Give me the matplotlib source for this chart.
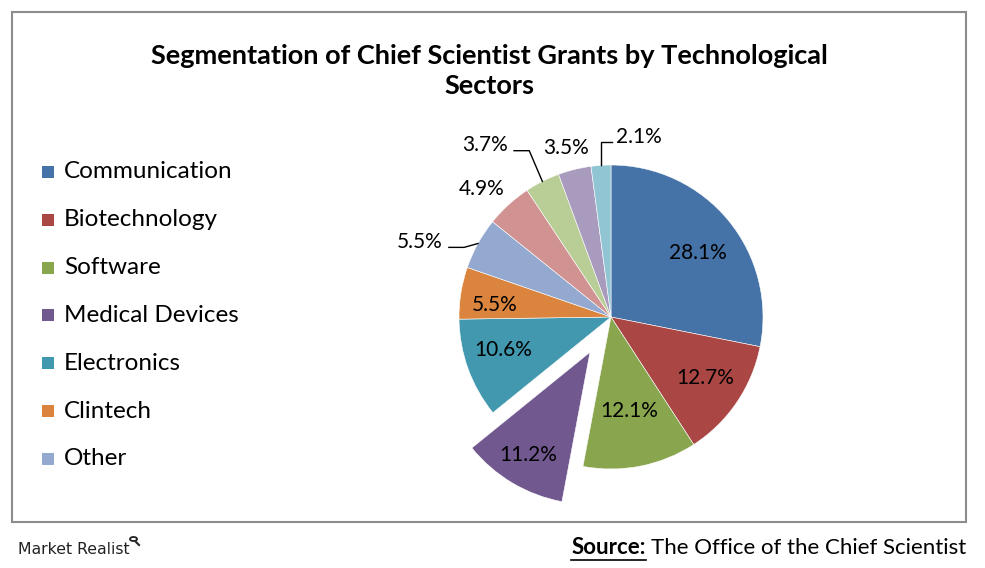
import numpy as np
import matplotlib
matplotlib.use("Agg")
import matplotlib.pyplot as plt
from matplotlib.patches import Rectangle, Circle
from matplotlib.lines import Line2D

# --- data ---
legend_names = ["Communication", "Biotechnology", "Software", "Medical Devices",
                "Electronics", "Clintech", "Other"]
shares = [28.1, 12.7, 12.1, 11.2, 10.6, 5.5, 5.5, 4.9, 3.7, 3.5, 2.1]
colors = ["#4572A7", "#AA4643", "#89A54E", "#71588F", "#4198AF", "#DB843D",
          "#93A9CF", "#D19392", "#B9CD96", "#A99BBD", "#92C5D3"]
explode = [0, 0, 0, 0.27, 0, 0, 0, 0, 0, 0, 0]

# label placement (radius from slice origin, angle nudge in degrees, leader line?)
lab_r = [0.71, 0.74, 0.63, 0.79, 0.74, 0.77, 1.35, 1.20, 1.40, 1.15, 1.20]
lab_dang = [-3, 1, 0, 0, -3, 3, 7.5, 3, 9.4, 1, -12.7]
leader = [False] * 6 + [True, False, True, False, True]

FONT = ["Lato", "DejaVu Sans"]
W, H = 985, 568
fig = plt.figure(figsize=(W / 100, H / 100), dpi=100)
fig.patch.set_facecolor("white")

# chart border
fig.patches.append(Rectangle((12 / W, 1 - 522 / H), (966 - 12) / W, (522 - 12) / H,
                             transform=fig.transFigure, fill=False,
                             edgecolor="#8C8C8C", linewidth=1.5))

fig.text(489 / W, 1 - 71 / H,
         "Segmentation of Chief Scientist Grants by Technological\nSectors",
         ha="center", va="center", fontsize=19.5, fontweight="bold",
         family=FONT, linespacing=1.3, color="black")

# pie axes: centre at pixel (611, 317), radius 152 px
R = 152
cx, cy = 611, 317
ax = fig.add_axes(((cx - 2 * R) / W, (H - cy - 1.6 * R) / H, 4 * R / W, 3.2 * R / H))
wedges, _ = ax.pie(shares, colors=colors, explode=explode, startangle=90,
                   counterclock=False, radius=1.0,
                   wedgeprops=dict(edgecolor="white", linewidth=0.4))
ax.set_xlim(-2, 2)
ax.set_ylim(-1.6, 1.6)
ax.set_aspect("equal")
ax.axis("off")

for w, val, ex, r, da, ld in zip(wedges, shares, explode, lab_r, lab_dang, leader):
    mid = np.deg2rad((w.theta1 + w.theta2) / 2)
    ox, oy = ex * np.cos(mid), ex * np.sin(mid)
    ang = mid + np.deg2rad(da)
    lx, ly = ox + r * np.cos(ang), oy + r * np.sin(ang)
    ax.text(lx, ly, f"{val}%", ha="center", va="center", fontsize=15,
            family=FONT, color="black")
    if ld:
        exx, exy = np.cos(mid), np.sin(mid)
        half = 0.19
        if lx < exx:
            endx = lx + half
            elbx = endx + 0.1
        else:
            endx = lx - half + 0.01
            elbx = exx
        endy = ly - 0.035
        ax.plot([exx, elbx, endx], [exy, endy, endy], color="black", lw=1.0,
                solid_joinstyle="miter")

# legend
for i, (name, col) in enumerate(zip(legend_names, colors)):
    y = 172 + i * 47.8
    fig.patches.append(Rectangle((42 / W, 1 - (y + 6) / H), 12 / W, 12 / H,
                                 transform=fig.transFigure, facecolor=col,
                                 edgecolor="none"))
    fig.text(64 / W, 1 - y / H, name, ha="left", va="center", fontsize=17.5,
             family=FONT, color="black")

# footer
fig.text(18 / W, 1 - 549 / H, "Market Realist", ha="left", va="center",
         fontsize=11.3, family=["Liberation Sans Narrow", "DejaVu Sans"],
         color="#222222")
fig.patches.append(Circle((133.5 / W, 1 - 539 / H), 3.5 / W, transform=fig.transFigure,
                          fill=False, edgecolor="#222222", linewidth=1.3))
fig.lines.append(Line2D([136 / W, 139 / W], [1 - 542 / H, 1 - 545 / H],
                        transform=fig.transFigure, color="#222222", lw=1.5))

src = fig.text(966 / W, 1 - 548 / H, "The Office of the Chief Scientist", ha="right",
               va="center", fontsize=16, family=FONT, color="black")
fig.canvas.draw()
bb = src.get_window_extent()
lab = fig.text((bb.x0 - 5) / W, 1 - 548 / H, "Source:", ha="right", va="center",
               fontsize=16, fontweight="bold", family=FONT, color="black")
fig.canvas.draw()
lb = lab.get_window_extent()
fig.lines.append(Line2D([lb.x0 / W, lb.x1 / W], [(lb.y0 - 1) / H, (lb.y0 - 1) / H],
                        transform=fig.transFigure, color="black", lw=1.2))

fig.savefig("out.png", dpi=100, facecolor="white")
